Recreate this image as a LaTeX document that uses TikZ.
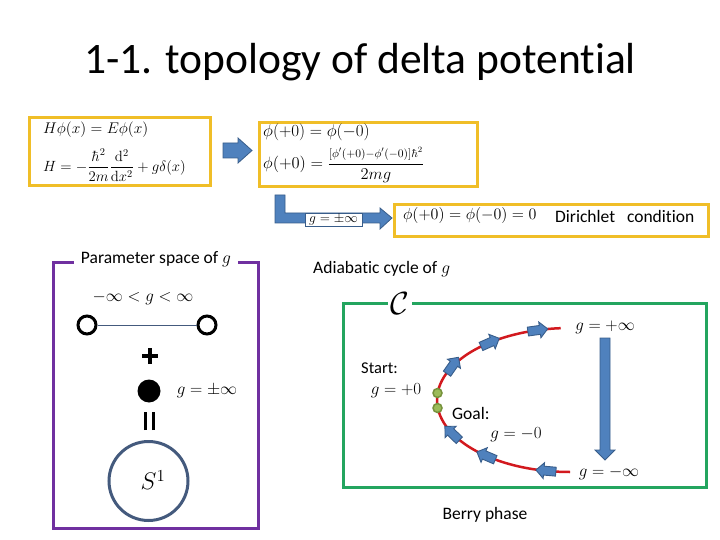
\RequirePackage{fix-cm}
\documentclass[tikz,border=0pt]{standalone}
\usepackage{amsmath}
\usepackage[no-math]{fontspec}
\setmainfont{Carlito}[Ligatures=NoCommon]
\usetikzlibrary{shapes.arrows}
\definecolor{ybox}{RGB}{240,190,40}
\definecolor{pbox}{RGB}{112,48,160}
\definecolor{gbox}{RGB}{35,165,95}
\definecolor{rcurve}{RGB}{210,25,30}
\definecolor{afill}{RGB}{79,129,189}
\definecolor{aedge}{RGB}{56,93,138}
\definecolor{scol}{RGB}{68,90,125}
\definecolor{lgreen}{RGB}{155,187,89}
\definecolor{dgreen}{RGB}{118,146,60}
\newcommand{\fs}[1]{\fontsize{#1}{#1}\selectfont}
\tikzset{
  yb/.style={draw=ybox, line width=3pt, inner sep=0pt, anchor=north west},
  blockarrow/.style={draw=aedge, fill=afill, line width=0.8pt},
  smallarr/.style={single arrow, draw=aedge, fill=afill, line width=0.9pt,
    inner xsep=0pt, inner ysep=4pt, minimum height=20pt, minimum width=15pt,
    single arrow head extend=3.5pt},
  lab/.style={font=\fs{17}, inner sep=0pt},
  txt/.style={font=\fs{17.5}, inner sep=0pt},
  dotg/.style={circle, draw=dgreen, fill=lgreen, line width=1.5pt, minimum size=9pt, inner sep=0pt}
}
\begin{document}
\begin{tikzpicture}[x=1pt,y=-1pt]
\useasboundingbox (0,0) rectangle (720,540);
% title
\node[font=\fs{43.5}, anchor=base, inner sep=0pt] (title) at (360,74) {1-1. topology of delta potential};
% box 1
\node[yb, minimum width=181pt, minimum height=68pt] (b1) at (28,116) {};
\node[anchor=west, font=\fs{15.5}, inner sep=0pt] (e1) at (43,130) {$H\phi(x)=E\phi(x)$};
\node[anchor=west, font=\fs{14.8}, inner sep=0pt] (e2) at (43,165) {$H=-\dfrac{\hbar^2}{2m}\dfrac{\mathrm{d}^2}{\mathrm{d}x^2}+g\delta(x)$};
% arrow 1
\draw[blockarrow] (223,143) -- (238,143) -- (238,138) -- (252,150.5) -- (238,163) -- (238,158) -- (223,158) -- cycle;
% box 2
\node[yb, minimum width=218pt, minimum height=64pt] (b2) at (258,121) {};
\node[anchor=west, font=\fs{17}, inner sep=0pt] (e3) at (263,132) {$\phi(+0)=\phi(-0)$};
\node[anchor=west, font=\fs{16.5}, inner sep=0pt] (e4) at (263,165) {$\phi(+0)=\dfrac{\scriptstyle[\phi'(+0)-\phi'(-0)]\hbar^2}{2mg}$};
% L arrow
\draw[blockarrow] (275,195) -- (285,195) -- (285,213) -- (380,213) -- (380,208) -- (392,218) -- (380,229) -- (380,223) -- (275,223) -- cycle;
\node[draw=aedge, fill=white, line width=0.6pt, inner sep=0pt, minimum width=57pt, minimum height=13pt, font=\fs{13.5}] (ginf) at (333.5,219.5) {$g=\pm\infty$};
% box 3
\node[yb, minimum width=314pt, minimum height=32pt] (b3) at (393,203) {};
\node[anchor=west, font=\fs{16}, inner sep=0pt] (e5) at (403,216) {$\phi(+0)=\phi(-0)=0$};
\node[anchor=west, txt] (dir) at (555,216) {Dirichlet\ \ \ condition};
% parameter space box
\draw[pbox, line width=3pt] (53,262) rectangle (258,528);
\node[fill=white, txt, inner xsep=7pt, inner ysep=2pt] (pst) at (156,259) {Parameter space of $g$};
\node[lab] (rng) at (143,298) {$-\infty<g<\infty$};
\node[circle, draw, line width=3pt, minimum size=18pt, inner sep=0pt] (oL) at (87,325) {};
\node[circle, draw, line width=3pt, minimum size=18pt, inner sep=0pt] (oR) at (207,325) {};
\draw[scol, line width=0.7pt] (oL) -- (oR);
\coordinate (plus) at (150,356);
\draw[line width=3.5pt] ([xshift=-8pt]plus) -- ([xshift=8pt]plus);
\draw[line width=3.5pt] ([yshift=-8pt]plus) -- ([yshift=8pt]plus);
\node[circle, fill=black, minimum size=23pt, inner sep=0pt] (dot) at (149,391) {};
\node[lab] (gpm) at (207,391) {$g=\pm\infty$};
\coordinate (eq) at (149,421);
\draw[line width=3pt] ([xshift=-4pt,yshift=-9pt]eq) -- ([xshift=-4pt,yshift=9pt]eq);
\draw[line width=3pt] ([xshift=4pt,yshift=-9pt]eq) -- ([xshift=4pt,yshift=9pt]eq);
\node[circle, draw=scol, line width=3pt, minimum size=79pt, inner sep=0pt] (s1) at (148.5,481) {};
\node[font=\fs{24}, inner sep=0pt] (s1t) at (153,480) {$S^1$};
% adiabatic cycle
\node[anchor=west, txt] (adi) at (313,269) {Adiabatic cycle of $g$};
\draw[gbox, line width=3pt] (343,303) rectangle (706,487);
\node[fill=white, font=\fs{32}, inner xsep=3pt, inner ysep=0pt] (cc) at (400,304) {$\mathcal{C}$};
\draw[rcurve, line width=2.5pt] plot[domain=-94:-270, samples=90, smooth] ({570+133*cos(\x)},{400+72*sin(\x)});
% arrows on curve
\node[smallarr, rotate=8] (u1) at (535.6,330.5) {};
\node[smallarr, rotate=24] (u2) at (488.1,343.3) {};
\node[smallarr, rotate=55] (u3) at (451.5,367.3) {};
\node[smallarr, rotate=175] (l1) at (548.1,471) {};
\node[smallarr, rotate=157] (l2) at (488.1,456.7) {};
\node[smallarr, rotate=136] (l3) at (453.7,434.9) {};
% big down arrow
\draw[blockarrow] (600,338) -- (610,338) -- (610,450) -- (615,450) -- (605,460) -- (595,450) -- (600,450) -- cycle;
% dots
\node[dotg] (start) at (437.5,393) {};
\node[dotg] (goal) at (437.5,408) {};
% labels
\node[anchor=west, font=\fs{16.5}, inner sep=0pt] (st) at (361,368) {Start:};
\node[lab] (gp0) at (396,391) {$g=+0$};
\node[anchor=west, font=\fs{17.5}, inner sep=0pt] (gl) at (452,413) {Goal:};
\node[lab] (gm0) at (516,435) {$g=-0$};
\node[lab] (gpi) at (605,327) {$g=+\infty$};
\node[lab] (gmi) at (609,473) {$g=-\infty$};
\node[txt] (berry) at (485,515) {Berry phase};
\end{tikzpicture}
\end{document}
